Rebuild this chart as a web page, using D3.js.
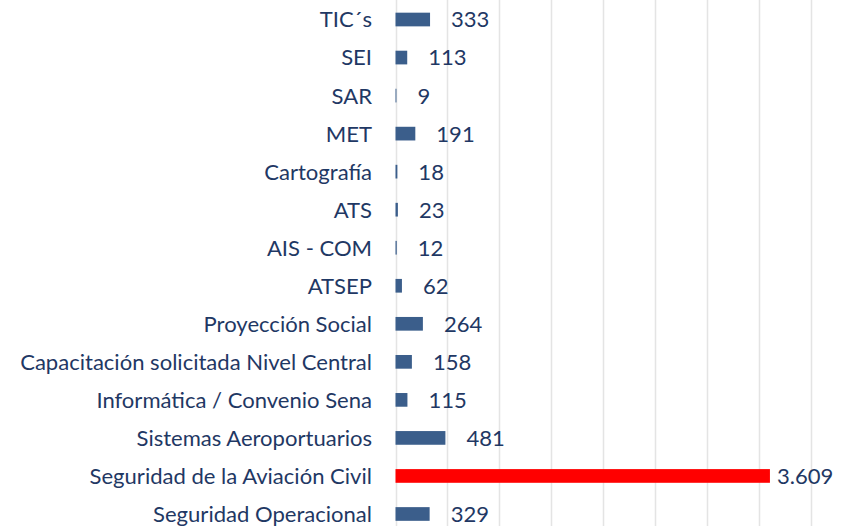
<!DOCTYPE html>
<html>
<head>
<meta charset="utf-8">
<script src="https://cdn.jsdelivr.net/npm/d3@7"></script>
<style>
  html, body { margin: 0; padding: 0; background: #ffffff; }
  svg { display: block; }
</style>
</head>
<body>
<script>
const categories = [
  "TIC´s", "SEI", "SAR", "MET", "Cartografía", "ATS", "AIS - COM", "ATSEP",
  "Proyección Social", "Capacitación solicitada Nivel Central",
  "Informática / Convenio Sena", "Sistemas Aeroportuarios",
  "Seguridad de la Aviación Civil", "Seguridad Operacional"
];
const values = [333, 113, 9, 191, 18, 23, 12, 62, 264, 158, 115, 481, 3609, 329];
const highlighted = ["Seguridad de la Aviación Civil"];
const xTicks = [0, 500, 1000, 1500, 2000, 2500, 3000, 3500, 4000];

const W = 844, H = 526;
const left = 395.5, right = 810.5;
const textColor = "#1F3864";
const barColor = "#3B5E8B";
const hiColor = "#FF0000";
const fontFamily = "Lato, 'Open Sans', sans-serif";

const esLocale = d3.formatLocale({ decimal: ",", thousands: ".", grouping: [3], currency: ["$", ""] });
const fmt = esLocale.format(",d");

const svg = d3.select("body").append("svg").attr("width", W).attr("height", H);

const x = d3.scaleLinear().domain([0, 4000]).range([left, right]);
const y = d3.scaleBand().domain(categories).range([0.5, 533]).paddingInner(0.64).paddingOuter(0.32);

// gridlines
svg.append("g")
  .selectAll("line")
  .data(xTicks)
  .join("line")
  .attr("x1", d => Math.round(x(d)) + 0.5)
  .attr("x2", d => Math.round(x(d)) + 0.5)
  .attr("y1", 0)
  .attr("y2", H)
  .attr("stroke", "#E4E4E4")
  .attr("stroke-width", 1.5);

// bars
const data = categories.map((c, i) => ({ c, v: values[i] }));
svg.append("g")
  .selectAll("rect")
  .data(data)
  .join("rect")
  .attr("x", x(0))
  .attr("y", d => y(d.c))
  .attr("width", d => x(d.v) - x(0))
  .attr("height", y.bandwidth())
  .attr("fill", d => highlighted.includes(d.c) ? hiColor : barColor);

// category labels
const labels = svg.append("g")
  .selectAll("text")
  .data(data)
  .join("text")
  .attr("x", 372)
  .attr("y", d => y(d.c) + y.bandwidth() / 2)
  .attr("dy", "0.36em")
  .attr("text-anchor", "end")
  .attr("fill", textColor)
  .style("font-family", fontFamily)
  .style("font-size", "20px")
  .text(d => d.c);

// fit font size so the longest label spans the reference width
let maxLen = 0;
labels.each(function() { maxLen = Math.max(maxLen, this.getComputedTextLength()); });
const fs = 20 * 352 / maxLen;
labels.style("font-size", fs + "px");

// value labels
svg.append("g")
  .selectAll("text")
  .data(data)
  .join("text")
  .attr("x", d => x(d.v) + (highlighted.includes(d.c) ? 7 : 21))
  .attr("y", d => y(d.c) + y.bandwidth() / 2)
  .attr("dy", "0.36em")
  .attr("fill", textColor)
  .style("font-family", fontFamily)
  .style("font-size", fs + "px")
  .text(d => fmt(d.v));
</script>
</body>
</html>
